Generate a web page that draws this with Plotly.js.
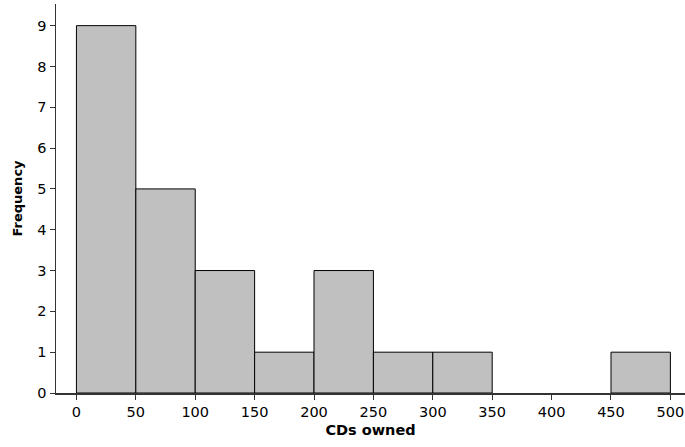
<!DOCTYPE html>
<html><head><meta charset="utf-8">
<script src="https://cdn.plot.ly/plotly-3.0.1.min.js"></script>
<style>html,body{margin:0;padding:0;background:#fff}</style>
</head><body><div id="chart" style="width:685px;height:447px"></div>
<script>
const binStarts = [0, 50, 100, 150, 200, 250, 300, 350, 400, 450];
const binWidth = 50;
const frequencies = [9, 5, 3, 1, 3, 1, 1, 0, 0, 1];
const xTicks = [0, 50, 100, 150, 200, 250, 300, 350, 400, 450, 500];
const yTicks = [0, 1, 2, 3, 4, 5, 6, 7, 8, 9];

const trace = {
  type: 'bar',
  x: binStarts.map(s => s + binWidth / 2),
  y: frequencies.map(f => f === 0 ? null : f),
  width: binWidth,
  marker: {color: '#c0c0c0', line: {color: '#000', width: 1}},
  hoverinfo: 'x+y'
};
const tickFont = {family: 'DejaVu Sans, sans-serif', size: 14.5, color: '#000'};
const layout = {
  width: 685, height: 447,
  margin: {l: 56, r: 0, t: 4, b: 54},
  paper_bgcolor: '#fff', plot_bgcolor: '#fff',
  font: {family: 'DejaVu Sans, Verdana, sans-serif', size: 13, color: '#000'},
  showlegend: false,
  bargap: 0,
  xaxis: {
    range: [-17.2, 512.3], tickvals: xTicks, ticks: 'outside', ticklen: 5, tickcolor: '#333',
    showline: true, linecolor: '#333', linewidth: 1.5, showgrid: false, zeroline: false,
    tickfont: tickFont, ticklabeloverflow: 'allow',
    title: {text: '<b>CDs owned</b>', font: {size: 14.5}, standoff: 6}
  },
  yaxis: {
    range: [0, 9.53], tickvals: yTicks, ticks: 'outside', ticklen: 5, tickcolor: '#333',
    showline: true, linecolor: '#333', linewidth: 1.5, showgrid: false, zeroline: false,
    tickfont: tickFont,
    title: {text: '<b>Frequency</b>', font: {size: 13}, standoff: 12}
  }
};
Plotly.newPlot('chart', [trace], layout, {displayModeBar: false, staticPlot: true});
</script></body></html>
